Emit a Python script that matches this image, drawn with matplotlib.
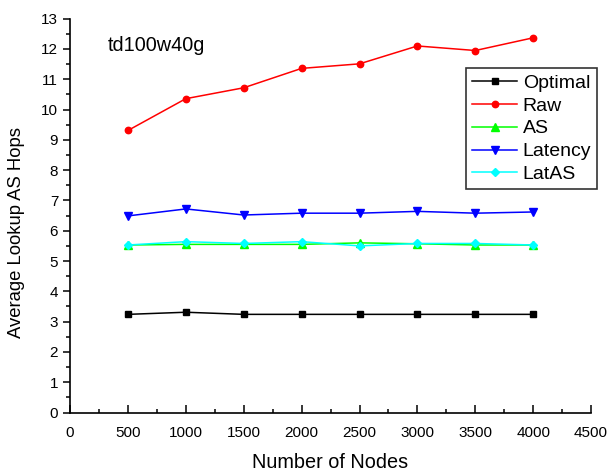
import matplotlib
matplotlib.use("Agg")
import matplotlib.pyplot as plt
from matplotlib.ticker import MultipleLocator

plt.rcParams['font.family'] = ['Liberation Sans', 'DejaVu Sans']

nodes = [500, 1000, 1500, 2000, 2500, 3000, 3500, 4000]
optimal = [3.24, 3.31, 3.24, 3.24, 3.24, 3.24, 3.24, 3.24]
raw = [9.31, 10.36, 10.72, 11.36, 11.51, 12.10, 11.95, 12.37]
as_hops = [5.53, 5.55, 5.55, 5.55, 5.60, 5.57, 5.53, 5.53]
latency = [6.49, 6.72, 6.52, 6.58, 6.58, 6.64, 6.58, 6.62]
latas = [5.53, 5.64, 5.58, 5.64, 5.50, 5.58, 5.58, 5.53]

series = [
    ("Optimal", optimal, "black", "s", 3.8),
    ("Raw", raw, "#ff0000", "o", 4.6),
    ("AS", as_hops, "#00ff00", "^", 5.6),
    ("Latency", latency, "#0000ff", "v", 5.6),
    ("LatAS", latas, "#00ffff", "D", 4.4),
]

fig = plt.figure(figsize=(6.1, 4.76), dpi=100)
ax = fig.add_axes([0.1148, 0.1334, 0.969 - 0.1148, 0.9607 - 0.1334])

for name, vals, color, marker, ms in series:
    ax.plot(nodes, vals, color=color, marker=marker, markersize=ms,
            linewidth=1.1, label=name, markeredgecolor=color,
            markerfacecolor=color)

ax.set_xlim(0, 4500)
ax.set_ylim(0, 13)
ax.xaxis.set_major_locator(MultipleLocator(500))
ax.xaxis.set_minor_locator(MultipleLocator(250))
ax.yaxis.set_major_locator(MultipleLocator(1))
ax.yaxis.set_minor_locator(MultipleLocator(0.5))

ax.spines['top'].set_visible(False)
ax.spines['right'].set_visible(False)
for s in ('left', 'bottom'):
    ax.spines[s].set_linewidth(1.2)

ax.tick_params(axis='x', which='major', direction='in', length=6, width=1.1,
               labelsize=11, pad=10)
ax.tick_params(axis='x', which='minor', direction='in', length=3, width=1.1)
ax.tick_params(axis='y', which='major', direction='out', length=5, width=1.1,
               labelsize=11)
ax.tick_params(axis='y', which='minor', direction='out', length=3, width=1.1)

ax.set_xlabel("Number of Nodes", fontsize=14.3, labelpad=9)
ax.set_ylabel("Average Lookup AS Hops", fontsize=13.3)
ax.yaxis.set_label_coords(-0.087, 0.458)

ax.text(330, 12.1, "td100w40g", fontsize=14.3, ha='left', va='center')

leg = ax.legend(loc='upper right', bbox_to_anchor=(1.0115, 0.874), fontsize=14,
                frameon=True, fancybox=False, edgecolor='black',
                handlelength=2.3, handletextpad=0.3, borderpad=0.3,
                labelspacing=0.27, borderaxespad=0)
leg.get_frame().set_linewidth(1.2)

fig.savefig("out.png", dpi=100)
